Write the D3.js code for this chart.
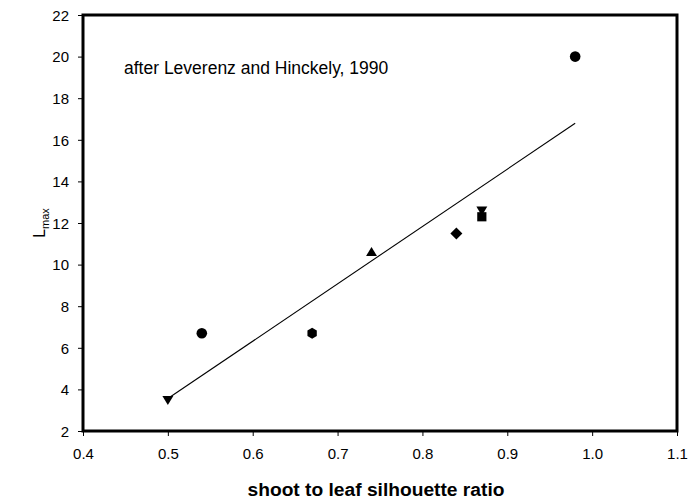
<!DOCTYPE html>
<html>
<head>
<meta charset="utf-8">
<script src="https://cdn.jsdelivr.net/npm/d3@7"></script>
<style>
  html, body { margin: 0; padding: 0; background: #fff; }
  svg { display: block; font-family: Arial, "Liberation Sans", sans-serif; }
</style>
</head>
<body>
<svg id="chart" width="688" height="504"></svg>
<script>
// ---- data ----
const xValues = [0.50, 0.54, 0.67, 0.74, 0.84, 0.87, 0.87, 0.98];
const yValues = [3.5, 6.7, 6.7, 10.6, 11.5, 12.3, 12.6, 20.0];
const markerShapes = ["triangleDown", "circle", "hexagon", "triangleUp", "diamond", "square", "triangleDown", "circle"];
const xTicks = [0.4, 0.5, 0.6, 0.7, 0.8, 0.9, 1.0, 1.1];
const yTicks = [2, 4, 6, 8, 10, 12, 14, 16, 18, 20, 22];
const annotation = "after Leverenz and Hinckely, 1990";
const xTitle = "shoot to leaf silhouette ratio";

// ---- layout ----
const W = 688, H = 504;
const m = { left: 83, top: 15, right: 11, bottom: 73 };
const svg = d3.select("#chart");

const x = d3.scaleLinear().domain([0.4, 1.1]).range([m.left, W - m.right]);
const y = d3.scaleLinear().domain([2, 22]).range([H - m.bottom, m.top]);

// frame
svg.append("rect")
  .attr("x", x(0.4)).attr("y", y(22))
  .attr("width", x(1.1) - x(0.4)).attr("height", y(2) - y(22))
  .attr("fill", "none").attr("stroke", "#000").attr("stroke-width", 3);

// axes
const xAxis = svg.append("g")
  .attr("transform", `translate(0,${y(2)})`)
  .call(d3.axisBottom(x).tickValues(xTicks).tickFormat(d3.format(".1f")).tickSize(5).tickSizeOuter(0));
const yAxis = svg.append("g")
  .attr("transform", `translate(${x(0.4)},0)`)
  .call(d3.axisLeft(y).tickValues(yTicks).tickFormat(d3.format("d")).tickSize(5).tickSizeOuter(0));

[xAxis, yAxis].forEach(g => {
  g.select(".domain").remove();
  g.selectAll(".tick line").attr("stroke", "#000").attr("stroke-width", 1);
  g.selectAll(".tick text").attr("fill", "#000").style("font-size", "15px")
    .style("font-family", "Arial, 'Liberation Sans', sans-serif");
});
xAxis.selectAll(".tick text").attr("dy", "0").attr("y", 28);
yAxis.selectAll(".tick text").attr("x", -14).attr("dy", "0.35em");

// regression line (least squares from data)
const n = xValues.length;
const mx = d3.mean(xValues), my = d3.mean(yValues);
let sxy = 0, sxx = 0;
for (let i = 0; i < n; i++) { sxy += (xValues[i] - mx) * (yValues[i] - my); sxx += (xValues[i] - mx) ** 2; }
const slope = sxy / sxx, intercept = my - slope * mx;
const [x0, x1] = d3.extent(xValues);
svg.append("line")
  .attr("x1", x(x0)).attr("y1", y(intercept + slope * x0))
  .attr("x2", x(x1)).attr("y2", y(intercept + slope * x1))
  .attr("stroke", "#000").attr("stroke-width", 1.1);

// markers
function markerPath(shape) {
  const s = 5.2;
  switch (shape) {
    case "circle": return d3.symbol().type(d3.symbolCircle).size(Math.PI * 5.3 * 5.3)();
    case "triangleUp": return `M0,${-s}L${s * 1.05},${s * 0.75}L${-s * 1.05},${s * 0.75}Z`;
    case "triangleDown": return `M0,${s}L${s * 1.05},${-s * 0.75}L${-s * 1.05},${-s * 0.75}Z`;
    case "square": return `M${-4.6},${-4.6}H4.6V4.6H-4.6Z`;
    case "diamond": return `M0,-6L6,0L0,6L-6,0Z`;
    case "hexagon": {
      const r = 5.4;
      const pts = d3.range(6).map(k => {
        const a = Math.PI / 6 + k * Math.PI / 3;
        return [r * Math.cos(a), r * Math.sin(a)];
      });
      return "M" + pts.map(p => p.join(",")).join("L") + "Z";
    }
  }
}
svg.append("g").selectAll("path")
  .data(d3.range(n))
  .join("path")
  .attr("transform", i => `translate(${x(xValues[i])},${y(yValues[i])})`)
  .attr("d", i => markerPath(markerShapes[i]))
  .attr("fill", "#000");

// annotation
svg.append("text")
  .attr("x", 124).attr("y", 74)
  .style("font-size", "17.5px")
  .attr("fill", "#000")
  .text(annotation);

// x title
svg.append("text")
  .attr("x", 376).attr("y", 496)
  .attr("text-anchor", "middle")
  .style("font-size", "19.2px").style("font-weight", "bold")
  .attr("fill", "#000")
  .text(xTitle);

// y title: L with subscript max
const yt = svg.append("text")
  .attr("transform", `translate(45,${y(12)}) rotate(-90)`)
  .attr("text-anchor", "middle")
  .style("font-size", "16px")
  .attr("fill", "#000");
yt.append("tspan").text("L");
yt.append("tspan").attr("dy", 4).style("font-size", "11px").text("max");
</script>
</body>
</html>
